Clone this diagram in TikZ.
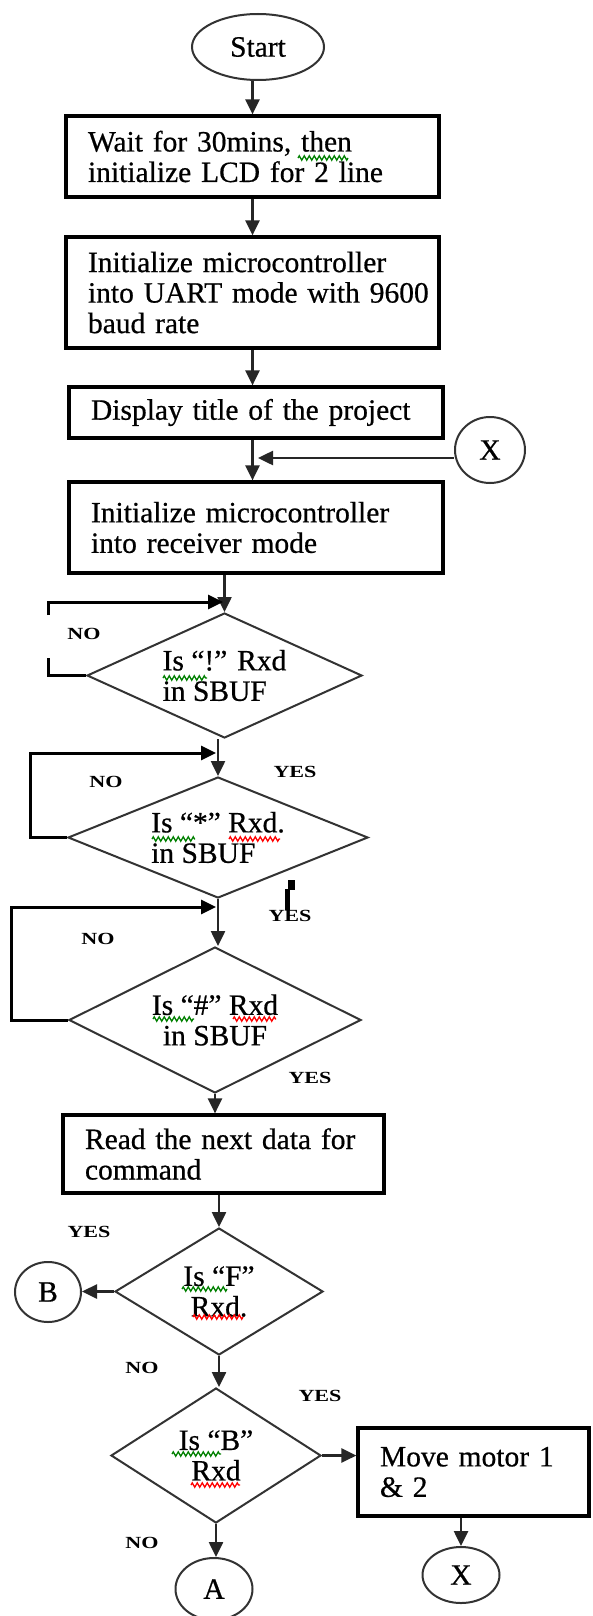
\documentclass[tikz,border=0pt]{standalone}
\usepackage{fontspec}
\setmainfont{Liberation Serif}
\newfontfamily\heavyserif{Liberation Serif}[FakeBold=0.6]
\usetikzlibrary{shapes.geometric,arrows.meta,decorations.pathmorphing}
\definecolor{spgreen}{RGB}{0,128,0}
\definecolor{spred}{RGB}{255,0,0}
\newcommand\ynlab[1]{\scalebox{1.3}[1]{#1}}
\begin{document}
\begin{tikzpicture}[x=1pt,y=-1pt,
  font=\heavyserif\fontsize{29.5}{30.5}\selectfont,
  procbox/.style={draw=black, line width=3.2pt, inner xsep=22pt, inner ysep=0pt, align=left},
  decision/.style={diamond, draw=black!80, line width=2pt, inner sep=0pt, aspect=2.2},
  conn/.style={ellipse, draw=black!80, line width=2pt, inner sep=0pt},
  arr/.style={draw=black!85, line width=2.5pt, -{Triangle[length=15pt,width=14pt]}},
  loopl/.style={draw=black, line width=3pt},
  looparr/.style={loopl, -{Triangle[length=15pt,width=14pt]}},
  lab/.style={font=\rmfamily\fontsize{17}{17}\selectfont\bfseries, inner sep=0pt},
  squig/.style={draw=#1, line width=1.3pt, decorate, decoration={zigzag, segment length=5pt, amplitude=2.2pt}},
]
\useasboundingbox[fill=white] (0,0) rectangle (592,1616);

% nodes
\node[conn, minimum width=132pt, minimum height=66pt] (st) at (258,47) {Start};
\node[procbox, text width=329pt, minimum height=81pt] (b1) at (252.5,156.5) {Wait for 30mins, then\\initialize LCD for 2 line};
\node[procbox, text width=329pt, minimum height=111pt] (b2) at (252.5,292.5) {Initialize microcontroller\\\mbox{into UART mode with 9600}\\baud rate};
\node[procbox, text width=330pt, minimum height=51pt] (b3) at (256,412.5) {Display title of the project};
\node[procbox, text width=330pt, minimum height=91pt] (b4) at (256,527.5) {Initialize microcontroller\\into receiver mode};
\node[conn, minimum width=70pt, minimum height=66pt] (xc1) at (490,450) {X};

\node[decision, minimum width=275pt, minimum height=125pt, align=left] (d1) at (224.5,675.5) {Is “!” Rxd\\in SBUF};
\node[decision, minimum width=300pt, minimum height=121pt, align=left] (d2) at (218,837.5) {Is “*” Rxd.\\in SBUF};
\node[decision, minimum width=292pt, minimum height=146pt, align=center] (d3) at (215,1020) {Is “\#” Rxd\\in SBUF};
\node[procbox, text width=277pt, minimum height=78pt] (b5) at (223.5,1154) {Read the next data for\\command};
\node[decision, minimum width=208pt, minimum height=127pt, align=center] (d4) at (219,1291.5) {Is “F”\\Rxd.};
\node[conn, minimum width=66pt, minimum height=60pt] (bc) at (48,1292) {B};
\node[decision, minimum width=210pt, minimum height=135pt, align=center] (d5) at (216,1455.5) {Is “B”\\Rxd};
\node[procbox, text width=187pt, minimum height=88pt] (b6) at (473.5,1472) {Move motor 1\\\& 2};
\node[conn, minimum width=77pt, minimum height=62pt] (ac) at (214,1589) {A};
\node[conn, minimum width=77pt, minimum height=56pt] (xc2) at (461,1575) {X};

% labels
\node[lab] (no1) at (84,634) {\ynlab{NO}};
\node[lab] (yes2) at (295,772) {\ynlab{YES}};
\node[lab] (no2) at (106,782) {\ynlab{NO}};
\node[lab] (yes3) at (290,916) {\ynlab{YES}};
\node[lab] (no3) at (98,939) {\ynlab{NO}};
\node[lab] (yes4) at (310,1078) {\ynlab{YES}};
\node[lab] (yes5) at (89,1232) {\ynlab{YES}};
\node[lab] (no5) at (142,1368) {\ynlab{NO}};
\node[lab] (yes6) at (320,1396) {\ynlab{YES}};
\node[lab] (no6) at (142,1543) {\ynlab{NO}};

% coordinates
\coordinate (mx) at (b2.south);
\coordinate (xin) at (258,458);
\coordinate (l1) at (223,602);
\coordinate (l2) at (216,753);
\coordinate (l3) at (216,907);

% main flow
\draw[arr] (st.south -| b1.north) -- (b1.north);
\draw[arr] (b1.south) -- (b2.north);
\draw[arr] (b2.south) -- (b2.south |- b3.north);
\draw[arr] (b3.south -| mx) -- (b4.north -| mx);
\draw[arr] (xc1.west |- xin) -- (xin);
\draw[arr] (b4.south -| d1.north) -- (d1.north);
\draw[arr] (d1.south -| d2.north) -- (d2.north);
\draw[arr] (d2.south) -- (d2.south |- d3.north);
\draw[arr] (d3.south) -- (d3.south |- b5.north);
\draw[arr] (b5.south -| d4.north) -- (d4.north);
\draw[arr] (d4.west) -- (d4.west -| bc.east);
\draw[arr] (d4.south) -- (d4.south |- d5.north);
\draw[arr] (d5.east) -- (d5.east -| b6.west);
\draw[arr] (d5.south) -- (d5.south |- ac.north);
\draw[arr] (b6.south -| xc2.north) -- (xc2.north);

% loops
\draw[loopl] (d1.west) -| (48,658);
\draw[looparr] (48,615) |- (l1);
\draw[looparr] (d2.west) -| (30,753) -- (l2);
\draw[looparr] (d3.west) -| (11,907) -- (l3);

% stray mark
\fill[black] (287.5,880) rectangle (295,890);
\fill[black] (285,889) rectangle (290,910);

% spelling squiggles
\draw[squig=spgreen] (298,158) -- (348,158);
\draw[squig=spgreen] (163,678) -- (207,678);
\draw[squig=spgreen] (152,839) -- (195,839);
\draw[squig=spred] (229,839) -- (280,839);
\draw[squig=spgreen] (153,1019) -- (194,1019);
\draw[squig=spred] (233,1019) -- (276,1019);
\draw[squig=spgreen] (182,1289) -- (227,1289);
\draw[squig=spred] (193,1317) -- (243,1317);
\draw[squig=spgreen] (172,1454) -- (221,1454);
\draw[squig=spred] (191,1485) -- (240,1485);
\end{tikzpicture}
\end{document}
